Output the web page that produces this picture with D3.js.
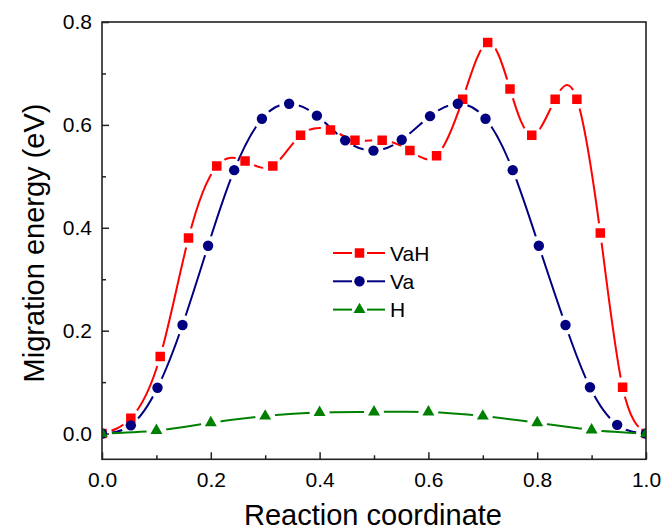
<!DOCTYPE html>
<html><head><meta charset="utf-8">
<script src="https://cdn.jsdelivr.net/npm/d3@7"></script>
<style>body{margin:0;background:#fff}svg{display:block}text{font-family:Arial,"Liberation Sans",sans-serif;fill:#000}</style>
</head><body><svg id="c" width="662" height="532"></svg>
<script>
const xVaH = [0,0.053,0.107,0.159,0.211,0.263,0.314,0.365,0.42,0.465,0.515,0.566,0.615,0.663,0.709,0.75,0.79,0.833,0.873,0.916,0.957,1.0];
const yVaH = [0,0.03,0.15,0.38,0.52,0.53,0.52,0.58,0.59,0.57,0.57,0.55,0.54,0.65,0.76,0.67,0.58,0.65,0.65,0.39,0.09,0];
const xVa = [0,0.053,0.102,0.148,0.195,0.243,0.294,0.344,0.395,0.447,0.499,0.551,0.603,0.654,0.705,0.755,0.803,0.852,0.897,0.947,1.0];
const yVa = [0,0.016,0.089,0.211,0.365,0.512,0.612,0.641,0.618,0.57,0.55,0.571,0.617,0.641,0.612,0.512,0.365,0.211,0.09,0.017,0];
const xH = [0,0.1,0.2,0.3,0.4,0.5,0.6,0.7,0.8,0.9,1.0];
const yH = [0,0.006,0.021,0.034,0.041,0.042,0.042,0.034,0.021,0.007,0];
const seriesNames = ["VaH","Va","H"];
const xTicks = [0,0.2,0.4,0.6,0.8,1.0];
const yTicks = [0,0.2,0.4,0.6,0.8];

const L=102,T=22,R=646,B=459.3;
const svg=d3.select("#c");
const x=d3.scaleLinear().domain([0,1]).range([L,R]);
const y=d3.scaleLinear().domain([-0.05,0.8]).range([B,T]);

const series=[
 {name:seriesNames[0],xs:xVaH,ys:yVaH,color:"#ff0000",sym:d3.symbolSquare,size:90},
 {name:seriesNames[1],xs:xVa,ys:yVa,color:"#000080",sym:d3.symbolCircle,size:85},
 {name:seriesNames[2],xs:xH,ys:yH,color:"#008000",sym:d3.symbolTriangle,size:62}
];
const defs=svg.append("defs");
defs.append("clipPath").attr("id","plotclip").append("rect")
  .attr("x",L).attr("y",T).attr("width",R-L).attr("height",B-T);

const fmt=d3.format(".1f");
const gx=svg.append("g").attr("transform",`translate(0,${B})`)
  .call(d3.axisBottom(x).tickValues(xTicks).tickFormat(fmt).tickSize(-7).tickPadding(13));
const gxm=svg.append("g").attr("transform",`translate(0,${B})`)
  .call(d3.axisBottom(x).tickValues([0.1,0.3,0.5,0.7,0.9]).tickFormat("").tickSize(-4));
const gy=svg.append("g").attr("transform",`translate(${L},0)`)
  .call(d3.axisLeft(y).tickValues(yTicks).tickFormat(fmt).tickSize(-7).tickPadding(10));
const gym=svg.append("g").attr("transform",`translate(${L},0)`)
  .call(d3.axisLeft(y).tickValues([0.1,0.3,0.5,0.7]).tickFormat("").tickSize(-4));
[gx,gxm,gy,gym].forEach(g=>{g.select(".domain").remove();g.selectAll("line").attr("stroke","#222").attr("stroke-width",1.5);
  g.selectAll("text").style("font-size","21px").attr("fill","#000");});

series.forEach((s,i)=>{
  const pts=s.xs.map((v,j)=>[x(v),y(s.ys[j])]);
  const m=defs.append("mask").attr("id","m"+i).attr("maskUnits","userSpaceOnUse")
    .attr("x",0).attr("y",0).attr("width",662).attr("height",532);
  m.append("rect").attr("width",662).attr("height",532).attr("fill","#fff");
  m.selectAll("circle").data(pts).join("circle").attr("cx",d=>d[0]).attr("cy",d=>d[1]).attr("r",10).attr("fill","#000");
  svg.append("g").attr("clip-path","url(#plotclip)").append("path")
    .attr("d",d3.line().curve(d3.curveNatural)(pts))
    .attr("fill","none").attr("stroke",s.color).attr("stroke-width",2).attr("mask",`url(#m${i})`);
});
series.forEach(s=>{
  const pts=s.xs.map((v,j)=>[x(v),y(s.ys[j])]);
  svg.append("g").attr("clip-path","url(#plotclip)").selectAll("path").data(pts).join("path")
    .attr("transform",d=>`translate(${d[0]},${d[1]})`)
    .attr("d",d3.symbol(s.sym,s.size)).attr("fill",s.color);
});

svg.append("rect").attr("x",L).attr("y",T).attr("width",R-L).attr("height",B-T)
  .attr("fill","none").attr("stroke","#222").attr("stroke-width",1.6);

const lg=svg.append("g");
series.forEach((s,i)=>{
  const yy=253+i*28.3;
  lg.append("line").attr("x1",333).attr("x2",352).attr("y1",yy).attr("y2",yy).attr("stroke",s.color).attr("stroke-width",2);
  lg.append("line").attr("x1",367).attr("x2",385).attr("y1",yy).attr("y2",yy).attr("stroke",s.color).attr("stroke-width",2);
  lg.append("path").attr("transform",`translate(359.5,${yy})`).attr("d",d3.symbol(s.sym,s.size)).attr("fill",s.color);
  lg.append("text").attr("x",390).attr("y",yy).attr("dy","0.36em").style("font-size","21px").text(s.name);
});

svg.append("text").attr("x",373).attr("y",525).attr("text-anchor","middle").style("font-size","29px").text("Reaction coordinate");
svg.append("text").attr("transform","translate(44,243) rotate(-90)").attr("text-anchor","middle").style("font-size","29px").text("Migration energy (eV)");
</script></body></html>
